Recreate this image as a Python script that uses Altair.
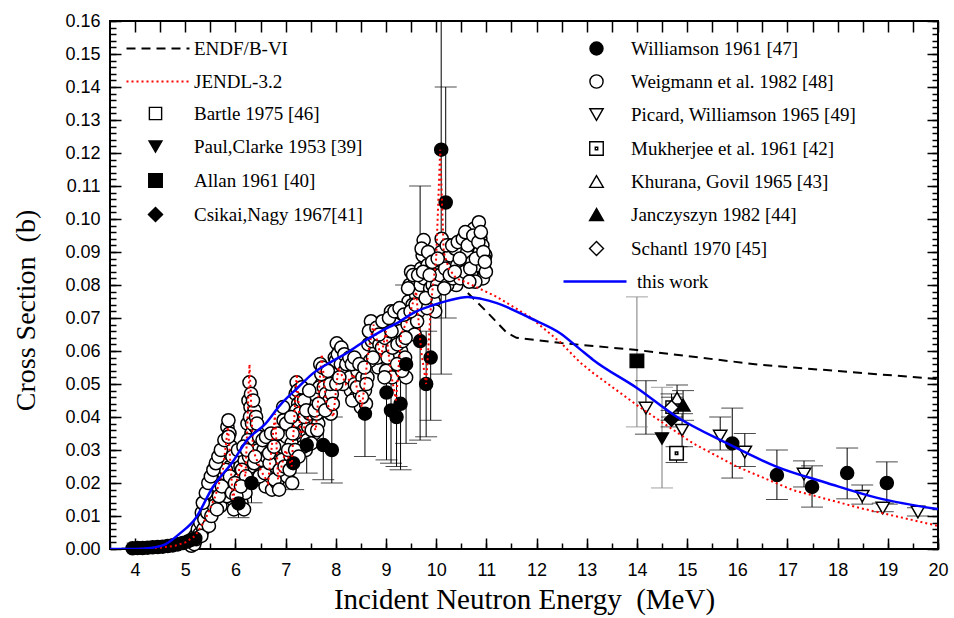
import altair as alt
import pandas as pd

SERIF = "Liberation Serif"
SANS = "Liberation Sans"

# ---------------- data ----------------
# this work (blue solid)
this_E = [3.5, 4.0, 4.3, 4.6, 4.9, 5.2, 5.55, 5.95, 6.23, 6.6, 6.89, 7.25, 7.55, 7.94, 8.22, 8.62,
          8.88, 9.28, 9.54, 9.9, 10.22, 10.63, 10.9, 11.21, 11.87, 12.47, 12.87, 13.13, 14.0,
          14.8, 15.8, 16.79, 17.79, 18.79, 20.0]
this_s = [0.0, 0.0, 0.0003, 0.0014, 0.0048, 0.0092, 0.0188, 0.0265, 0.033, 0.038, 0.0436, 0.049,
          0.0533, 0.057, 0.0594, 0.0635, 0.0658, 0.069, 0.0715, 0.0737, 0.0752, 0.0764, 0.0758,
          0.0745, 0.070, 0.0654, 0.0605, 0.0573, 0.0488, 0.040, 0.032, 0.0249, 0.020, 0.0155, 0.0121]

# JENDL-3.2 (red dotted)
jendl_E = [3.5, 4.0, 4.5, 4.8, 5.0, 5.2, 5.4, 5.6, 5.75, 5.85, 5.95, 6.1, 6.2, 6.28, 6.35, 6.5,
           6.65, 6.79, 6.85, 7.0, 7.12, 7.22, 7.3, 7.45, 7.6, 7.72, 7.8, 7.95, 8.05, 8.2, 8.35,
           8.52, 8.65, 8.75, 8.9, 9.0, 9.1, 9.2, 9.3, 9.45, 9.6, 9.7, 9.8, 9.9, 10.0, 10.08,
           10.15, 10.25, 10.4, 10.63, 11.21, 11.87, 12.47, 12.87, 13.13, 14.0, 15.12, 16.0,
           17.1, 18.45, 20.0]
jendl_s = [0.0, 0.0, 0.0004, 0.001, 0.002, 0.004, 0.009, 0.016, 0.024, 0.037, 0.015, 0.026, 0.022,
           0.056, 0.030, 0.024, 0.020, 0.041, 0.021, 0.030, 0.025, 0.053, 0.034, 0.040, 0.036,
           0.059, 0.045, 0.040, 0.055, 0.050, 0.053, 0.043, 0.060, 0.068, 0.058, 0.066, 0.053,
           0.045, 0.065, 0.070, 0.078, 0.060, 0.050, 0.075, 0.088, 0.121, 0.090, 0.085, 0.082,
           0.0806, 0.0764, 0.0703, 0.0627, 0.0565, 0.0533, 0.0436, 0.032, 0.0249, 0.0179,
           0.0124, 0.0070]

# ENDF/B-VI (black dashed)
endf_E = [10.63, 11.0, 11.41, 11.6, 12.5, 14.0, 16.46, 20.0]
endf_s = [0.0776, 0.072, 0.0655, 0.064, 0.0624, 0.0603, 0.0558, 0.0515]

# Weigmann et al. 1982 [48] (open circles)
weig_E = [5.12, 5.15, 5.18, 5.2, 5.22, 5.25, 5.28,
          5.3, 5.33, 5.36, 5.4, 5.42, 5.45, 5.48, 5.5, 5.53, 5.55, 5.58, 5.6, 5.62, 5.65, 5.68,
          5.7, 5.72, 5.75,
          5.8, 5.82, 5.84, 5.86, 5.88, 5.85, 5.9, 5.92, 5.95, 5.97, 5.8, 5.83,
          6.0, 6.03, 6.06, 6.1, 6.12, 6.15, 6.18, 6.2,
          6.24, 6.26, 6.28, 6.3, 6.32, 6.34, 6.36, 6.38, 6.4, 6.42, 6.44, 6.46, 6.3,
          6.5, 6.53, 6.56, 6.6, 6.63, 6.66, 6.7, 6.73, 6.76, 6.8, 6.83, 6.86,
          6.9, 6.93, 6.96, 7.0, 7.03, 7.06, 7.1, 7.13,
          7.17, 7.2, 7.22, 7.25, 7.28, 7.3, 7.33, 7.36, 7.4,
          7.45, 7.5, 7.53, 7.57, 7.6, 7.65,
          7.69, 7.72, 7.75, 7.78, 7.82, 7.85, 7.9, 7.93,
          7.98, 8.02, 8.05, 8.08, 8.12, 8.15, 8.2,
          8.25, 8.3, 8.35, 8.4, 8.45, 8.5, 8.55, 8.6,
          8.65, 8.7, 8.75, 8.8, 8.85, 8.68,
          8.9, 8.95, 9.0, 9.05, 9.1, 9.15, 9.2, 9.25, 9.3, 9.35, 9.4, 9.0, 9.2,
          9.45, 9.5, 9.52, 9.55, 9.6, 9.65, 9.5,
          9.7, 9.75, 9.78, 9.8, 9.85, 9.9, 9.95, 9.98, 9.72,
          10.05, 10.1, 10.15, 10.2, 10.25, 10.3, 10.35, 10.4, 10.45, 10.5,
          10.55, 10.6, 10.65, 10.7, 10.75, 10.8, 10.85, 10.88, 10.9, 10.95, 10.93, 10.98,
          10.7, 10.6,
          5.32, 5.38, 5.44, 5.47, 5.52, 5.57, 5.63, 5.67, 5.73, 5.77,
          5.81, 5.87, 5.89, 5.93, 5.91,
          6.02, 6.08, 6.13, 6.17, 6.21,
          6.25, 6.27, 6.29, 6.33, 6.37, 6.41, 6.45, 6.48,
          6.52, 6.58, 6.62, 6.68, 6.72, 6.78, 6.82, 6.88,
          6.92, 6.98, 7.02, 7.08, 7.12,
          7.18, 7.21, 7.24, 7.27, 7.31, 7.35, 7.38,
          7.43, 7.48, 7.52, 7.55, 7.62, 7.67,
          7.71, 7.76, 7.8, 7.87, 7.92,
          7.96, 8.0, 8.04, 8.1, 8.14, 8.18,
          8.28, 8.33, 8.38, 8.43, 8.48, 8.53, 8.58,
          8.63, 8.72, 8.78, 8.83, 8.87,
          8.92, 8.98, 9.03, 9.08, 9.13, 9.18, 9.23, 9.28, 9.33, 9.38, 9.12, 9.32,
          9.43, 9.47, 9.53, 9.58, 9.62, 9.66, 9.57,
          9.69, 9.73, 9.76, 9.83, 9.88, 9.93, 9.96, 9.82,
          10.02, 10.08, 10.12, 10.18, 10.22, 10.28, 10.33, 10.38, 10.42, 10.48, 10.52,
          10.57, 10.62, 10.67, 10.72, 10.77, 10.82, 10.87, 10.92, 10.96, 10.99, 10.78, 10.66,
          5.35, 5.41, 5.46, 5.51, 5.56, 5.61, 5.66, 5.71, 5.78, 5.86, 5.94, 5.99,
          6.05, 6.11, 6.16, 6.23, 6.31, 6.35, 6.39, 6.43, 6.47,
          6.54, 6.61, 6.67, 6.71, 6.77, 6.84, 6.87,
          6.95, 7.01, 7.05, 7.11, 7.14,
          7.19, 7.26, 7.32, 7.37, 7.41,
          7.47, 7.51, 7.58, 7.63, 7.66,
          7.74, 7.79, 7.84, 7.89, 7.94,
          8.01, 8.07, 8.11, 8.17, 8.21,
          8.27, 8.32, 8.37, 8.42, 8.47, 8.52, 8.57, 8.61,
          8.66, 8.74, 8.81, 8.86,
          8.93, 8.97, 9.06, 9.11, 9.17, 9.22, 9.27, 9.36, 9.39,
          9.44, 9.49, 9.54, 9.59, 9.64,
          9.71, 9.74, 9.79, 9.84, 9.87, 9.92, 9.97,
          10.03, 10.11, 10.16, 10.21, 10.27, 10.32, 10.37, 10.43, 10.47, 10.53,
          10.58, 10.63, 10.68, 10.74, 10.79, 10.84, 10.89, 10.94, 10.97]
weig_s = [0.001, 0.0025, 0.0015, 0.004, 0.003, 0.006, 0.0045,
          0.008, 0.011, 0.006, 0.013, 0.009, 0.016, 0.012, 0.018, 0.014, 0.020, 0.017, 0.022,
          0.015, 0.019, 0.024, 0.013, 0.021, 0.017,
          0.027, 0.033, 0.037, 0.039, 0.035, 0.030, 0.025, 0.020, 0.015, 0.012, 0.020, 0.016,
          0.028, 0.022, 0.018, 0.025, 0.014, 0.020, 0.027, 0.017,
          0.038, 0.045, 0.0505, 0.043, 0.035, 0.030, 0.040, 0.042, 0.037, 0.033, 0.027, 0.030,
          0.025,
          0.025, 0.021, 0.030, 0.019, 0.024, 0.033, 0.022, 0.018, 0.028, 0.025, 0.020, 0.030,
          0.035, 0.027, 0.039, 0.031, 0.022, 0.036, 0.028, 0.020,
          0.040, 0.047, 0.0505, 0.044, 0.038, 0.033, 0.042, 0.036, 0.030,
          0.037, 0.044, 0.040, 0.035, 0.045, 0.038,
          0.056, 0.050, 0.046, 0.052, 0.043, 0.048, 0.041, 0.052,
          0.058, 0.0623, 0.055, 0.060, 0.052, 0.057, 0.050,
          0.055, 0.048, 0.053, 0.046, 0.051, 0.043, 0.049, 0.044,
          0.062, 0.069, 0.066, 0.060, 0.055, 0.057,
          0.065, 0.058, 0.068, 0.062, 0.072, 0.055, 0.065, 0.070, 0.060, 0.067, 0.052, 0.054,
          0.058,
          0.075, 0.084, 0.079, 0.070, 0.077, 0.072, 0.068,
          0.085, 0.0936, 0.088, 0.081, 0.077, 0.083, 0.075, 0.072, 0.078,
          0.085, 0.090, 0.082, 0.088, 0.092, 0.084, 0.087, 0.080, 0.090, 0.085,
          0.091, 0.095, 0.088, 0.093, 0.097, 0.090, 0.099, 0.094, 0.087, 0.085, 0.082, 0.089,
          0.083, 0.086,
          0.004, 0.009, 0.011, 0.007, 0.010, 0.013, 0.012, 0.016, 0.019, 0.023,
          0.024, 0.029, 0.022, 0.017, 0.031,
          0.016, 0.021, 0.024, 0.012, 0.022,
          0.033, 0.028, 0.040, 0.038, 0.026, 0.040, 0.035, 0.022,
          0.027, 0.023, 0.028, 0.026, 0.030, 0.021, 0.032, 0.024,
          0.031, 0.025, 0.034, 0.024, 0.032,
          0.035, 0.042, 0.048, 0.041, 0.045, 0.031, 0.040,
          0.033, 0.041, 0.036, 0.047, 0.041, 0.049,
          0.053, 0.049, 0.047, 0.045, 0.047,
          0.053, 0.057, 0.059, 0.056, 0.050, 0.054,
          0.052, 0.045, 0.050, 0.054, 0.047, 0.052, 0.048,
          0.052, 0.063, 0.064, 0.058, 0.062,
          0.061, 0.064, 0.058, 0.066, 0.061, 0.068, 0.062, 0.066, 0.063, 0.058, 0.052, 0.054,
          0.068, 0.080, 0.074, 0.081, 0.069, 0.078, 0.065,
          0.080, 0.089, 0.082, 0.086, 0.079, 0.080, 0.083, 0.073,
          0.080, 0.083, 0.087, 0.085, 0.080, 0.089, 0.082, 0.091, 0.086, 0.082, 0.088,
          0.084, 0.090, 0.094, 0.087, 0.092, 0.086, 0.090, 0.092, 0.088, 0.084, 0.081, 0.081,
          0.014, 0.017, 0.020, 0.022, 0.024, 0.026, 0.028, 0.030, 0.033, 0.034, 0.028, 0.020,
          0.030, 0.019, 0.031, 0.030, 0.047, 0.045, 0.028, 0.038, 0.034,
          0.033, 0.034, 0.029, 0.035, 0.031, 0.035, 0.018,
          0.043, 0.038, 0.030, 0.040, 0.035,
          0.030, 0.028, 0.049, 0.045, 0.042,
          0.048, 0.032, 0.042, 0.036, 0.044,
          0.055, 0.042, 0.054, 0.050, 0.044,
          0.050, 0.052, 0.061, 0.059, 0.056,
          0.058, 0.056, 0.058, 0.049, 0.056, 0.046, 0.055, 0.050,
          0.066, 0.058, 0.067, 0.065,
          0.069, 0.052, 0.070, 0.066, 0.072, 0.056, 0.073, 0.071, 0.064,
          0.079, 0.072, 0.083, 0.074, 0.083,
          0.091, 0.084, 0.076, 0.090, 0.083, 0.087, 0.078,
          0.088, 0.094, 0.079, 0.092, 0.083, 0.092, 0.084, 0.093, 0.088, 0.094,
          0.096, 0.092, 0.085, 0.095, 0.088, 0.093, 0.096, 0.090, 0.087]

# Williamson 1961 [47] (filled circles) with error limits
will_E = [3.95, 4.05, 4.15, 4.25, 4.35, 4.45, 4.55, 4.65, 4.75, 4.85, 4.95, 5.05, 5.12, 5.2,
          6.06, 6.32, 7.15, 7.42, 7.75, 7.92, 8.58, 9.01, 9.1, 9.21, 9.29, 9.4, 9.68, 9.8,
          9.89, 10.1, 10.19, 15.9, 16.79, 17.49, 18.19, 18.98]
will_s = [0.0002, 0.0003, 0.0003, 0.0004, 0.0005, 0.0006, 0.0007, 0.0009, 0.0011, 0.0014,
          0.0018, 0.0023, 0.0028, 0.0032, 0.0138, 0.020, 0.026, 0.0315, 0.0315, 0.030, 0.041,
          0.0474, 0.042, 0.040, 0.044, 0.056, 0.063, 0.050, 0.058, 0.121, 0.105, 0.032,
          0.0224, 0.0188, 0.023, 0.020]
will_lo = [0.0001, 0.0, 0.0002, 0.0003, 0.0004, 0.0005, 0.0006, 0.0007, 0.0009, 0.0011,
           0.0014, 0.0018, 0.0022, 0.0025, 0.0095, 0.014, 0.018, 0.023, 0.021, 0.020, 0.028,
           0.027, 0.026, 0.025, 0.024, 0.032, 0.033, 0.034, 0.039, 0.053, 0.070, 0.0215,
           0.015, 0.0127, 0.0152, 0.0136]
will_hi = [0.0003, 0.0018, 0.0004, 0.0005, 0.0006, 0.0007, 0.0008, 0.0011, 0.0013, 0.0017,
           0.0022, 0.0028, 0.0034, 0.0039, 0.018, 0.026, 0.034, 0.040, 0.042, 0.040, 0.054,
           0.068, 0.058, 0.055, 0.064, 0.080, 0.110, 0.066, 0.077, 0.189, 0.140, 0.0427,
           0.030, 0.0252, 0.0306, 0.0264]

# Picard, Williamson 1965 [49] (open down triangles)
pic_E = [14.18, 14.9, 15.66, 16.15, 17.33, 18.49, 18.9, 19.6]
pic_s = [0.0427, 0.036, 0.0342, 0.0294, 0.0227, 0.016, 0.0124, 0.0112]
pic_lo = [0.0348, 0.031, 0.030, 0.025, 0.0188, 0.0136, 0.0113, 0.0100]
pic_hi = [0.051, 0.041, 0.040, 0.035, 0.0267, 0.0194, 0.0139, 0.0125]

# single points near 14 MeV: name, E, value, low, high
sing_name = ["Mukherjee et al. 1961 [42]", "Khurana, Govil 1965 [43]", "Janczyszyn 1982 [44]",
             "Schantl 1970 [45]", "Bartle 1975 [46]", "Paul,Clarke 1953 [39]",
             "Allan 1961 [40]", "Csikai,Nagy 1967[41]"]
sing_E = [14.79, 14.8, 14.92, 14.69, 14.7, 14.5, 14.0, 14.69]
sing_s = [0.029, 0.0457, 0.0436, 0.0429, 0.043, 0.0335, 0.057, 0.0393]
sing_lo = [0.0262, 0.042, 0.039, 0.039, 0.040, 0.0185, 0.037, 0.037]
sing_hi = [0.031, 0.0497, 0.048, 0.047, 0.046, 0.049, 0.0764, 0.042]
sing_barcol = ["black", "black", "black", "black", "black", "#7a7a7a", "#7a7a7a", "black"]

# legend groups
LIBS = ["ENDF/B-VI", "JENDL-3.2"]
LEFT_SETS = ["Bartle 1975 [46]", "Paul,Clarke 1953 [39]", "Allan 1961 [40]", "Csikai,Nagy 1967[41]"]
RIGHT_SETS = ["Williamson 1961 [47]", "Weigmann et al. 1982 [48]", "Picard, Williamson 1965 [49]",
              "Mukherjee et al. 1961 [42]", "Khurana, Govil 1965 [43]", "Janczyszyn 1982 [44]",
              "Schantl 1970 [45]"]

# ---------------- tables ----------------
df_this = pd.DataFrame({"E": this_E, "s": this_s, "name": "this work"})
df_lib = pd.concat([
    pd.DataFrame({"E": endf_E, "s": endf_s, "lib": LIBS[0]}),
    pd.DataFrame({"E": jendl_E, "s": jendl_s, "lib": LIBS[1]}),
])

rows = []
for e, s in zip(weig_E, weig_s):
    rows.append({"E": e, "s": s, "set": RIGHT_SETS[1]})
for e, s in zip(will_E, will_s):
    rows.append({"E": e, "s": s, "set": RIGHT_SETS[0]})
for e, s in zip(pic_E, pic_s):
    rows.append({"E": e, "s": s, "set": RIGHT_SETS[2]})
for n, e, s in zip(sing_name, sing_E, sing_s):
    if n in RIGHT_SETS:
        rows.append({"E": e, "s": s, "set": n})
df_right = pd.DataFrame(rows)
df_left = pd.DataFrame([{"E": e, "s": s, "set": n}
                        for n, e, s in zip(sing_name, sing_E, sing_s) if n in LEFT_SETS])

err = []
for e, lo, hi in zip(will_E, will_lo, will_hi):
    err.append({"E": e, "lo": lo, "hi": hi, "col": "black"})
for e, lo, hi in zip(pic_E, pic_lo, pic_hi):
    err.append({"E": e, "lo": lo, "hi": hi, "col": "black"})
for e, lo, hi, c in zip(sing_E, sing_lo, sing_hi, sing_barcol):
    err.append({"E": e, "lo": lo, "hi": hi, "col": c})
df_err = pd.DataFrame(err)
df_cap = pd.concat([
    df_err[["E", "lo", "col"]].rename(columns={"lo": "v"}),
    df_err[["E", "hi", "col"]].rename(columns={"hi": "v"}),
])

# ---------------- scales / encodings ----------------
xs = alt.Scale(domain=[3.5, 20], nice=False, zero=False)
ys = alt.Scale(domain=[0, 0.16], nice=False, zero=False)


def ex():
    return alt.X("E:Q", scale=xs, axis=None)


def ey(f="s"):
    return alt.Y(f + ":Q", scale=ys, axis=None)


# ---------------- layers ----------------
bars = alt.Chart(df_err).mark_rule(strokeWidth=1, clip=True).encode(
    x=ex(), y=ey("lo"), y2=alt.Y2("hi:Q"), color=alt.Color("col:N", scale=None))
caps = alt.Chart(df_cap).mark_tick(orient="horizontal", size=22, thickness=1, clip=True).encode(
    x=ex(), y=ey("v"), color=alt.Color("col:N", scale=None))

MUK_PATH = "M-1,-1H1V1H-1Z M-0.18,-0.18H0.18V0.18H-0.18Z"
# long horizontal line symbol for line-series legend entries (ends at the label side)
LINE_SYM = "M-11.6,0H1"
LEG_FS = 19

leg_left = alt.Legend(title=None, orient="none", legendX=36, legendY=83, labelFont=SERIF,
                      labelFontSize=LEG_FS, labelColor="black", symbolStrokeWidth=1.4,
                      rowPadding=13, labelOffset=29, padding=0, labelLimit=400)
left_pts = alt.Chart(df_left).mark_point(filled=True, opacity=1, strokeWidth=1.4).encode(
    x=ex(), y=ey(),
    shape=alt.Shape("set:N", scale=alt.Scale(domain=LEFT_SETS,
                    range=["square", "triangle-down", "square", "diamond"]), legend=leg_left),
    fill=alt.Fill("set:N", scale=alt.Scale(domain=LEFT_SETS,
                  range=["white", "black", "black", "black"]), legend=leg_left),
    stroke=alt.Stroke("set:N", scale=alt.Scale(domain=LEFT_SETS,
                      range=["black", "black", "black", "black"]), legend=leg_left),
    size=alt.Size("set:N", scale=alt.Scale(domain=LEFT_SETS, range=[150, 200, 180, 200]),
                  legend=leg_left),
)

leg_right = alt.Legend(title=None, orient="none", legendX=477, legendY=18, labelFont=SERIF,
                       labelFontSize=LEG_FS, labelColor="black", symbolStrokeWidth=1.4,
                       rowPadding=13, labelOffset=25, padding=0, labelLimit=400)
right_pts = alt.Chart(df_right).mark_point(filled=True, opacity=1, strokeWidth=1.5).encode(
    x=ex(), y=ey(),
    shape=alt.Shape("set:N", scale=alt.Scale(domain=RIGHT_SETS,
                    range=["circle", "circle", "triangle-down", MUK_PATH, "triangle-up",
                           "triangle-up", "diamond"]), legend=leg_right),
    fill=alt.Fill("set:N", scale=alt.Scale(domain=RIGHT_SETS,
                  range=["black", "white", "white", "white", "white", "black", "white"]),
                  legend=leg_right),
    stroke=alt.Stroke("set:N", scale=alt.Scale(domain=RIGHT_SETS,
                      range=["black"] * 7), legend=leg_right),
    size=alt.Size("set:N", scale=alt.Scale(domain=RIGHT_SETS,
                  range=[170, 195, 165, 165, 125, 190, 380]), legend=leg_right),
)

leg_lib = alt.Legend(title=None, orient="none", legendX=65, legendY=18, labelFont=SERIF,
                     labelFontSize=LEG_FS, labelColor="black", symbolSize=100,
                     symbolStrokeWidth=2, rowPadding=13, labelOffset=0, padding=0,
                     symbolType=LINE_SYM, labelLimit=400)
lib_lines = alt.Chart(df_lib).mark_line(strokeWidth=2, clip=True).encode(
    x=ex(), y=ey(),
    color=alt.Color("lib:N", scale=alt.Scale(domain=LIBS, range=["black", "#ff0000"]),
                    legend=leg_lib),
    strokeDash=alt.StrokeDash("lib:N", scale=alt.Scale(domain=LIBS, range=[[9, 6], [2, 3]]),
                              legend=leg_lib),
)

leg_this = alt.Legend(title=None, orient="none", legendX=502, legendY=251, labelFont=SERIF,
                      labelFontSize=LEG_FS, labelColor="black", symbolSize=100,
                      symbolStrokeWidth=2.5, labelOffset=6, padding=0, symbolType=LINE_SYM,
                      labelLimit=400)
this_line = alt.Chart(df_this).mark_line(strokeWidth=2.5, interpolate="monotone", clip=True).encode(
    x=ex(), y=ey(),
    color=alt.Color("name:N", scale=alt.Scale(domain=["this work"], range=["#0000ff"]),
                    legend=leg_this),
)

# ---------------- axes (inward ticks) ----------------
x_major = [4, 5, 6, 7, 8, 9, 10, 11, 12, 13, 14, 15, 16, 17, 18, 19, 20]
x_minor = [3.5 + 0.5 * i for i in range(34)]
y_major = [0.0, 0.01, 0.02, 0.03, 0.04, 0.05, 0.06, 0.07, 0.08, 0.09, 0.10, 0.11, 0.12,
           0.13, 0.14, 0.15, 0.16]
y_minor = [round(0.002 * i, 3) for i in range(81)]

MAJ, MIN = 11, 6
axbase = alt.Chart(df_this).mark_point(opacity=0)


def xaxis(orient, values, size, labels, title=None):
    kw = dict(orient=orient, values=values, tickSize=size, offset=-size, domain=False,
              grid=False, labels=labels, tickColor="black", tickWidth=1.5)
    if labels:
        kw.update(labelFont=SANS, labelFontSize=18, labelColor="black", labelPadding=12,
                  format="d", labelFlush=False, labelOverlap=False)
    if title:
        kw.update(title=title, titleFont=SERIF, titleFontSize=29, titleFontWeight="normal",
                  titleColor="black", titlePadding=6)
    else:
        kw.update(title=None)
    return axbase.encode(x=alt.X("E:Q", scale=xs, axis=alt.Axis(**kw)), y=ey())


def yaxis(orient, values, size, labels, title=None):
    kw = dict(orient=orient, values=values, tickSize=size, offset=-size, domain=False,
              grid=False, labels=labels, tickColor="black", tickWidth=1.5)
    if labels:
        kw.update(labelFont=SANS, labelFontSize=18, labelColor="black", labelPadding=10,
                  format=".2f", labelFlush=False, labelOverlap=False)
    if title:
        kw.update(title=title, titleFont=SERIF, titleFontSize=28, titleFontWeight="normal",
                  titleColor="black", titlePadding=24, titleY=289)
    else:
        kw.update(title=None)
    return axbase.encode(x=ex(), y=alt.Y("s:Q", scale=ys, axis=alt.Axis(**kw)))


axes = [
    xaxis("bottom", x_major, MAJ, True, "Incident Neutron Energy \u00a0(MeV)"),
    xaxis("bottom", x_minor, MIN, False),
    xaxis("top", x_minor[1:], MAJ, False),
    yaxis("left", y_major, MAJ, True, "Cross Section \u00a0(b)"),
    yaxis("left", y_minor, MIN, False),
    yaxis("right", y_major, MAJ, False),
    yaxis("right", y_minor, MIN, False),
]

chart = alt.layer(
    bars, caps, left_pts, right_pts, lib_lines, this_line, *axes
).resolve_scale(
    shape="independent", fill="independent", stroke="independent", size="independent",
    color="independent", strokeDash="independent"
).resolve_axis(
    x="independent", y="independent"
).properties(
    width=828, height=528,
    autosize=alt.AutoSizeParams(type="none"),
    padding={"left": 110, "top": 21, "right": 16, "bottom": 69},
    background="white",
).configure_view(
    stroke="black", strokeWidth=2
)

chart.save("out.html", embed_options={"renderer": "svg", "actions": False})
